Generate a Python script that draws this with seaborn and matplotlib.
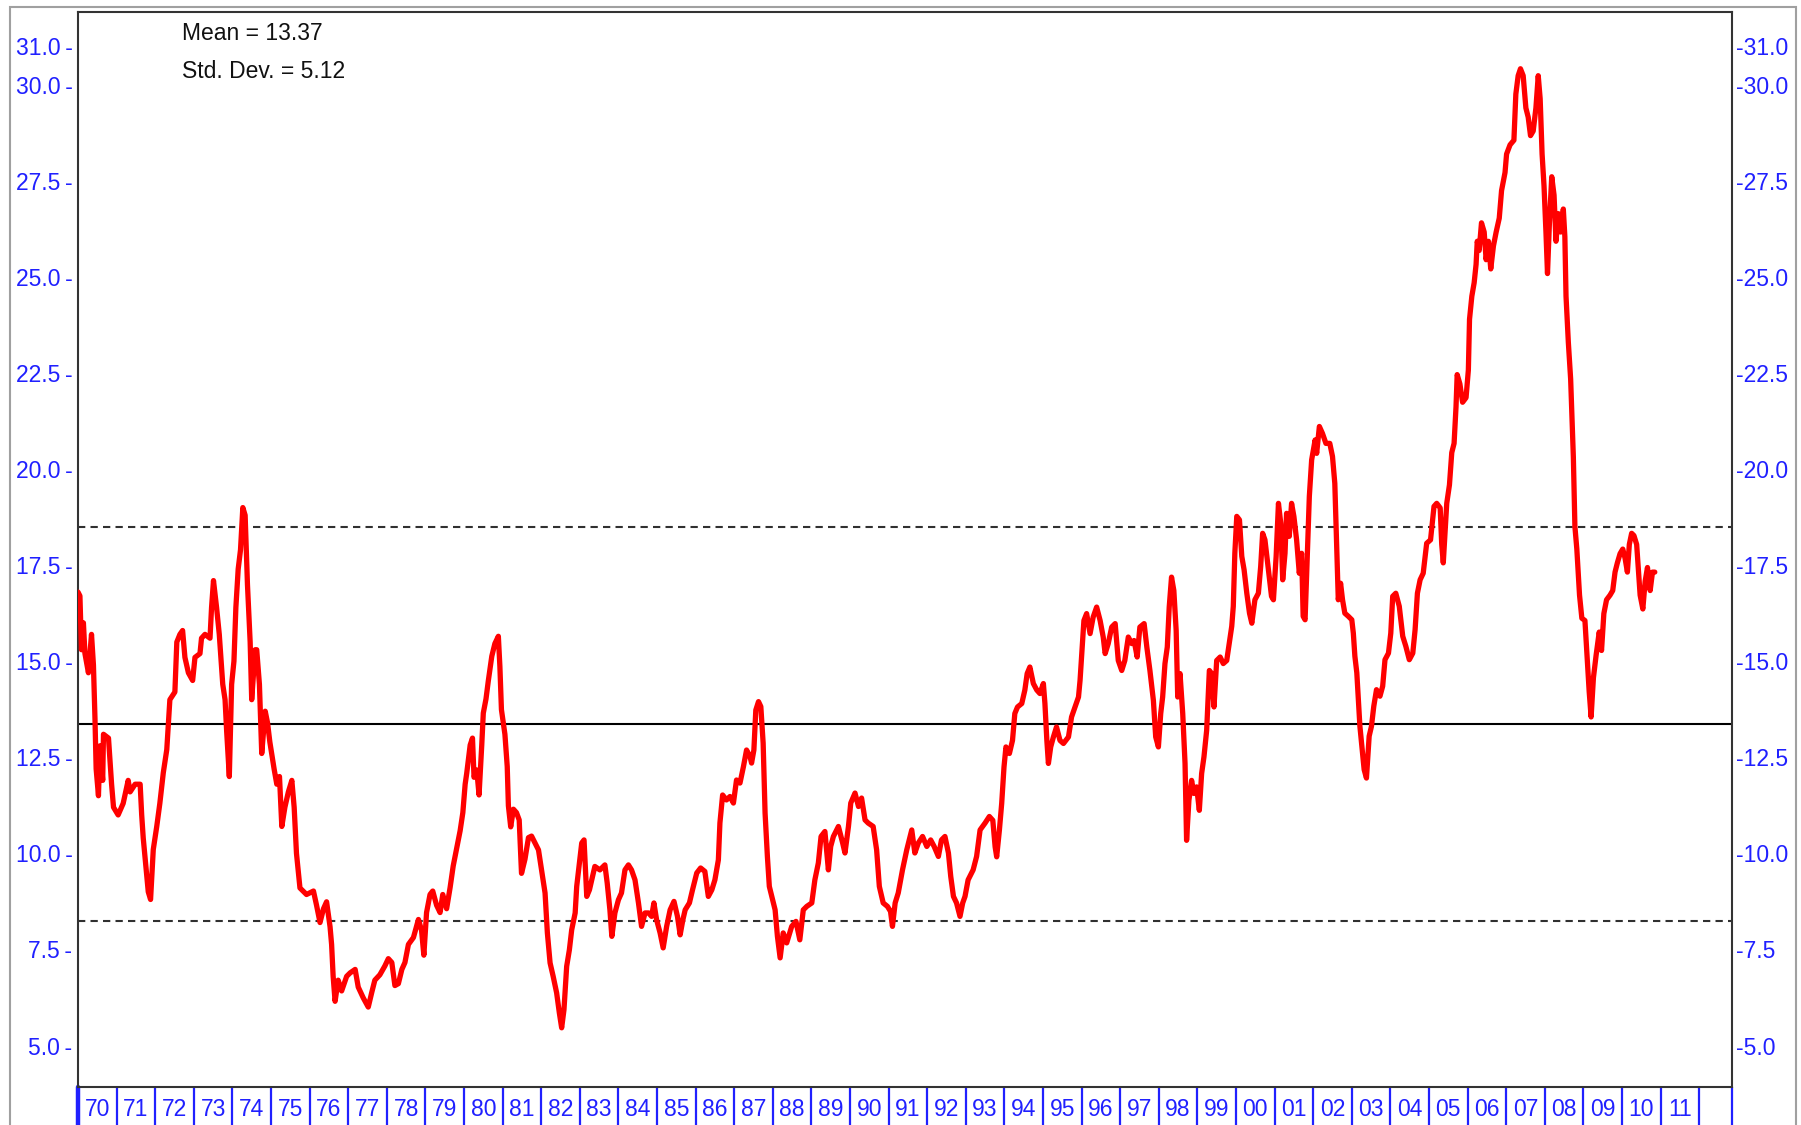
import pandas as pd
import matplotlib
matplotlib.use("Agg")
import matplotlib.pyplot as plt
import seaborn as sns
from matplotlib.patches import Rectangle

# P/E ratio (decimal years)
dates = [
    1970.00, 1970.05, 1970.09, 1970.14, 1970.18, 1970.27, 1970.35, 1970.40, 1970.44, 1970.47,
    1970.53, 1970.57, 1970.64, 1970.66, 1970.79, 1970.87, 1970.92, 1971.04, 1971.17, 1971.30,
    1971.35, 1971.48, 1971.61, 1971.65, 1971.69, 1971.76, 1971.82, 1971.88, 1971.95, 1972.04,
    1972.12, 1972.21, 1972.30, 1972.38, 1972.51, 1972.56, 1972.64, 1972.71, 1972.77, 1972.86,
    1972.97, 1973.03, 1973.16, 1973.20, 1973.29, 1973.42, 1973.46, 1973.51, 1973.59, 1973.66,
    1973.75, 1973.81, 1973.85, 1973.92, 1973.98, 1974.04, 1974.09, 1974.15, 1974.21, 1974.27,
    1974.33, 1974.39, 1974.46, 1974.50, 1974.59, 1974.63, 1974.70, 1974.76, 1974.85, 1974.91,
    1974.97, 1975.08, 1975.15, 1975.22, 1975.28, 1975.36, 1975.45, 1975.54, 1975.60, 1975.66,
    1975.75,
    1975.92, 1976.10, 1976.18, 1976.27, 1976.36, 1976.44, 1976.53, 1976.57, 1976.61, 1976.66,
    1976.74, 1976.83, 1976.96, 1977.05, 1977.18, 1977.26, 1977.39, 1977.52, 1977.61, 1977.69,
    1977.82, 1977.95, 1978.04, 1978.13, 1978.21, 1978.30, 1978.39, 1978.47, 1978.56, 1978.69,
    1978.82, 1978.90, 1978.96, 1979.03, 1979.12, 1979.19, 1979.29, 1979.38, 1979.45, 1979.55,
    1979.64, 1979.72, 1979.81, 1979.90, 1979.97, 1980.03, 1980.07, 1980.16, 1980.22, 1980.26,
    1980.33, 1980.39, 1980.46, 1980.50, 1980.57, 1980.63, 1980.72, 1980.80, 1980.89, 1980.93,
    1980.97, 1981.06, 1981.12, 1981.15, 1981.21, 1981.28, 1981.36, 1981.43, 1981.49, 1981.58,
    1981.67, 1981.75,
    1981.93, 1982.01, 1982.10, 1982.16, 1982.23, 1982.31, 1982.40, 1982.47, 1982.53, 1982.59,
    1982.66, 1982.73, 1982.79, 1982.88, 1982.92, 1982.99, 1983.05, 1983.11, 1983.18, 1983.25,
    1983.31, 1983.39, 1983.52, 1983.65, 1983.71, 1983.78, 1983.83, 1983.91, 1984.00, 1984.08,
    1984.17, 1984.26, 1984.34, 1984.43, 1984.52, 1984.60, 1984.69, 1984.78, 1984.86, 1984.92,
    1984.99, 1985.08, 1985.16, 1985.25, 1985.34, 1985.44, 1985.53, 1985.60, 1985.67, 1985.73,
    1985.84, 1985.92, 1986.03, 1986.13, 1986.24, 1986.33, 1986.42, 1986.50, 1986.59, 1986.63,
    1986.70, 1986.80, 1986.89, 1986.98, 1987.06, 1987.15, 1987.24, 1987.32, 1987.41, 1987.45,
    1987.51, 1987.56, 1987.63, 1987.69, 1987.75, 1987.80, 1987.86, 1987.91,
    1988.06, 1988.12, 1988.19, 1988.27, 1988.36, 1988.49, 1988.60, 1988.70, 1988.79, 1988.88,
    1989.01, 1989.09, 1989.18, 1989.25, 1989.35, 1989.44, 1989.50, 1989.57, 1989.70, 1989.81,
    1989.87, 1989.96, 1990.02, 1990.13, 1990.22, 1990.30, 1990.39, 1990.47, 1990.60, 1990.69,
    1990.76, 1990.86, 1990.97, 1991.05, 1991.10, 1991.17, 1991.25, 1991.36, 1991.47, 1991.60,
    1991.68, 1991.77, 1991.88, 1991.99, 1992.09, 1992.18, 1992.29, 1992.37, 1992.46, 1992.55,
    1992.61, 1992.68, 1992.76, 1992.85, 1992.92, 1992.98, 1993.06, 1993.19, 1993.28, 1993.37,
    1993.50, 1993.61,
    1993.70, 1993.76, 1993.80, 1993.87, 1993.93, 1993.99, 1994.04, 1994.13, 1994.21, 1994.27,
    1994.34, 1994.45, 1994.53, 1994.59, 1994.66, 1994.75, 1994.84, 1994.92, 1995.01, 1995.05,
    1995.10, 1995.14, 1995.20, 1995.27, 1995.35, 1995.44, 1995.53, 1995.66, 1995.74, 1995.83,
    1995.92, 1995.96, 1996.00, 1996.06, 1996.13, 1996.22, 1996.30, 1996.39, 1996.48, 1996.56,
    1996.61, 1996.69, 1996.78, 1996.87, 1996.95, 1997.04, 1997.12, 1997.21, 1997.30, 1997.36,
    1997.44, 1997.51, 1997.62, 1997.69, 1997.77, 1997.86, 1997.92, 1997.99, 1998.05, 1998.10,
    1998.16, 1998.22, 1998.27, 1998.33, 1998.39, 1998.45, 1998.49, 1998.55, 1998.62, 1998.68,
    1998.72, 1998.78, 1998.85, 1998.91, 1998.98, 1999.05, 1999.11, 1999.17, 1999.24, 1999.31,
    1999.37, 1999.43, 1999.50, 1999.59, 1999.67, 1999.76,
    1999.89, 1999.93, 1999.97, 2000.02, 2000.09, 2000.15, 2000.21, 2000.28, 2000.35, 2000.41,
    2000.49, 2000.58, 2000.64, 2000.69, 2000.75, 2000.84, 2000.92, 2000.97, 2001.04, 2001.10,
    2001.16, 2001.21, 2001.27, 2001.31, 2001.38, 2001.44, 2001.50, 2001.57, 2001.64, 2001.70,
    2001.74, 2001.79, 2001.85, 2001.90, 2001.96, 2002.05, 2002.09, 2002.16, 2002.24, 2002.33,
    2002.43, 2002.50, 2002.56, 2002.61, 2002.65, 2002.71, 2002.76, 2002.82, 2002.91, 2003.00,
    2003.04, 2003.08, 2003.13, 2003.17, 2003.21, 2003.26, 2003.32, 2003.38, 2003.45, 2003.51,
    2003.57, 2003.64, 2003.73, 2003.80, 2003.86, 2003.95, 2004.01, 2004.06, 2004.14, 2004.23,
    2004.32, 2004.40, 2004.49, 2004.58, 2004.64, 2004.70, 2004.77, 2004.85, 2004.94, 2005.04,
    2005.13, 2005.20,
    2005.29, 2005.33, 2005.37, 2005.41, 2005.46, 2005.53, 2005.59, 2005.65, 2005.70, 2005.73,
    2005.80, 2005.87, 2005.96, 2006.02, 2006.05, 2006.11, 2006.17, 2006.22, 2006.25, 2006.30,
    2006.36, 2006.43, 2006.48, 2006.54, 2006.60, 2006.67, 2006.74, 2006.82, 2006.88, 2006.97,
    2007.01, 2007.10, 2007.20, 2007.25, 2007.31, 2007.37, 2007.44, 2007.51, 2007.57, 2007.63,
    2007.70, 2007.77, 2007.83, 2007.88, 2007.93, 2007.98, 2008.03, 2008.07, 2008.12, 2008.18,
    2008.24, 2008.29, 2008.35, 2008.41, 2008.48, 2008.52, 2008.55, 2008.61, 2008.67, 2008.74,
    2008.78, 2008.83, 2008.90, 2008.96, 2009.04, 2009.08, 2009.15, 2009.20, 2009.26, 2009.33,
    2009.41, 2009.47, 2009.53, 2009.60, 2009.69, 2009.76, 2009.82, 2009.88, 2009.95, 2010.02,
    2010.08, 2010.14, 2010.19, 2010.25, 2010.31, 2010.38, 2010.42, 2010.47, 2010.54, 2010.60,
    2010.66, 2010.73, 2010.79, 2010.85,
]
pe = [
    16.8, 16.7, 15.3, 16.0, 15.2, 14.7, 15.7, 14.9, 13.5, 12.2,
    11.5, 12.8, 11.9, 13.1, 13.0, 11.8, 11.2, 11.0, 11.3, 11.9,
    11.6, 11.8, 11.8, 11.0, 10.4, 9.65, 9.0, 8.8, 10.1, 10.7,
    11.3, 12.1, 12.7, 14.0, 14.2, 15.5, 15.7, 15.8, 15.1, 14.7,
    14.5, 15.1, 15.2, 15.6, 15.7, 15.6, 16.4, 17.1, 16.4, 15.7,
    14.4, 14.0, 13.2, 12.0, 14.4, 15.0, 16.4, 17.4, 17.9, 19.0,
    18.8, 17.0, 15.5, 14.0, 15.3, 15.3, 14.4, 12.6, 13.7, 13.4,
    12.9, 12.2, 11.8, 12.0, 10.7, 11.2, 11.6, 11.9, 11.2, 10.0,
    9.1,
    8.93, 9.02, 8.65, 8.2, 8.56, 8.74, 8.09, 7.63, 6.8, 6.15,
    6.7, 6.42, 6.8, 6.89, 6.98, 6.52, 6.24, 6.0, 6.38, 6.7,
    6.84, 7.07, 7.26, 7.16, 6.56, 6.61, 6.98, 7.16, 7.63, 7.81,
    8.28, 8.0, 7.35, 8.46, 8.93, 9.02, 8.65, 8.46, 8.93, 8.56,
    9.11, 9.67, 10.13, 10.59, 11.06, 11.8, 12.08, 12.82, 13.0, 11.98,
    12.17, 11.52, 12.82, 13.65, 14.02, 14.49, 15.13, 15.46, 15.65, 14.86,
    13.74, 13.1, 12.26, 11.24, 10.69, 11.15, 11.06, 10.87, 9.48, 9.85,
    10.41, 10.45,
    10.09, 9.57, 8.97, 7.93, 7.15, 6.8, 6.37, 5.85, 5.46, 5.93,
    7.06, 7.49, 8.01, 8.45, 9.14, 9.75, 10.27, 10.35, 8.88, 9.05,
    9.31, 9.66, 9.57, 9.7, 9.23, 8.53, 7.84, 8.45, 8.79, 8.97,
    9.57, 9.7, 9.57, 9.31, 8.71, 8.1, 8.45, 8.45, 8.36, 8.71,
    8.27, 7.93, 7.54, 8.1, 8.53, 8.75, 8.36, 7.88, 8.27, 8.53,
    8.71, 9.05, 9.49, 9.62, 9.53, 8.88, 9.05, 9.31, 9.83, 10.79,
    11.52, 11.39, 11.48, 11.31, 11.91, 11.83, 12.26, 12.69, 12.52, 12.35,
    12.69, 13.73, 13.95, 13.82, 12.87, 11.05, 9.92, 9.14,
    8.53, 7.84, 7.28, 7.93, 7.67, 8.1, 8.23, 7.75, 8.53, 8.62,
    8.71, 9.31, 9.75, 10.44, 10.57, 9.57, 10.18, 10.44, 10.7, 10.27,
    10.01, 10.7, 11.31, 11.57, 11.22, 11.44, 10.87, 10.79, 10.7, 10.09,
    9.14, 8.71, 8.62, 8.49, 8.1, 8.71, 8.97, 9.57, 10.09, 10.61,
    10.01, 10.27, 10.44, 10.18, 10.35, 10.18, 9.92, 10.35, 10.44, 10.01,
    9.4, 8.88, 8.71, 8.36, 8.71, 8.88, 9.31, 9.57, 9.92, 10.61,
    10.79, 10.96,
    10.86, 10.17, 9.91, 10.6, 11.3, 12.25, 12.77, 12.6, 12.94, 13.64,
    13.81, 13.9, 14.25, 14.68, 14.85, 14.42, 14.25, 14.16, 14.42, 13.9,
    12.94, 12.34, 12.77, 13.03, 13.29, 12.94, 12.86, 13.03, 13.55, 13.81,
    14.07, 14.5, 15.11, 16.06, 16.24, 15.72, 16.15, 16.41, 16.06, 15.63,
    15.2, 15.46, 15.89, 15.98, 15.02, 14.76, 15.02, 15.63, 15.46, 15.54,
    15.11, 15.89, 15.98, 15.37, 14.76, 13.98, 13.03, 12.77, 13.64, 14.07,
    14.94, 15.37, 16.41, 17.19, 16.84, 15.8, 14.07, 14.68, 13.64, 12.34,
    10.34, 11.38, 11.9, 11.56, 11.73, 11.12, 12.08, 12.51, 13.2, 14.76,
    14.68, 13.81, 15.02, 15.11, 14.94, 15.02,
    15.91, 16.43, 17.81, 18.77, 18.68, 17.73, 17.38, 16.77, 16.25, 15.99,
    16.6, 16.77, 17.47, 18.33, 18.16, 17.38, 16.69, 16.6, 17.73, 19.11,
    18.59, 17.12, 17.81, 18.85, 18.25, 19.11, 18.77, 18.16, 17.29, 17.81,
    16.17, 16.08, 17.81, 19.29, 20.24, 20.76, 20.41, 21.11, 20.93, 20.67,
    20.67, 20.33, 19.63, 17.9, 16.6, 17.03, 16.6, 16.25, 16.17, 16.08,
    15.73, 15.13, 14.7, 14.0, 13.31, 12.79, 12.18, 11.96, 13.05, 13.31,
    13.83, 14.26, 14.09, 14.35, 15.04, 15.21, 15.73, 16.69, 16.77, 16.43,
    15.65, 15.39, 15.04, 15.21, 15.82, 16.77, 17.12, 17.29, 18.07, 18.16,
    19.03, 19.11,
    18.99, 18.04, 17.56, 18.27, 19.11, 19.59, 20.43, 20.67, 21.62, 22.46,
    22.22, 21.74, 21.86, 22.58, 23.9, 24.5, 24.85, 25.33, 25.93, 25.69,
    26.41, 26.17, 25.45, 25.93, 25.21, 25.81, 26.17, 26.53, 27.25, 27.72,
    28.2, 28.44, 28.56, 29.76, 30.24, 30.42, 30.24, 29.4, 29.16, 28.68,
    28.8, 29.4, 30.24, 29.64, 28.2, 27.37, 26.17, 25.09, 26.41, 27.61,
    27.13, 25.93, 26.65, 26.17, 26.77, 26.05, 24.5, 23.3, 22.34, 20.31,
    18.51, 17.92, 16.72, 16.12, 16.06, 15.4, 14.21, 13.55, 14.57, 15.16,
    15.76, 15.28, 16.24, 16.6, 16.72, 16.84, 17.32, 17.56, 17.8, 17.92,
    17.68, 17.32, 18.04, 18.33, 18.27, 18.04, 17.44, 16.72, 16.36, 17.08,
    17.44, 16.84, 17.32, 17.32,
]

mean_pe = 13.37
std_pe = 5.12
ytick_vals = [5.0, 7.5, 10.0, 12.5, 15.0, 17.5, 20.0, 22.5, 25.0, 27.5, 30.0, 31.0]
year_labels = ["70", "71", "72", "73", "74", "75", "76", "77", "78", "79",
               "80", "81", "82", "83", "84", "85", "86", "87", "88", "89",
               "90", "91", "92", "93", "94", "95", "96", "97", "98", "99",
               "00", "01", "02", "03", "04", "05", "06", "07", "08", "09",
               "10", "11"]

W, H = 1801, 1125
BLUE = "#2020ff"
FS = 16.5

sns.set_style("white")
plt.rcParams["font.family"] = ["Liberation Sans", "DejaVu Sans"]

fig = plt.figure(figsize=(W / 100, H / 100), dpi=100)
ax = fig.add_axes([78 / W, 1 - 1087 / H, (1732 - 78) / W, (1087 - 11.5) / H])

df = pd.DataFrame({"date": dates, "pe": pe})
sns.lineplot(data=df, x="date", y="pe", ax=ax, color="#ff0000", lw=3.8,
             estimator=None, sort=False, zorder=3)

# mean and +/- one std dev
ax.axhline(mean_pe, color="black", lw=1.5, zorder=2)
for v in (mean_pe + std_pe, mean_pe - std_pe):
    ax.axhline(v, color="#303030", lw=1.5, dashes=(3.5, 2.5), zorder=2)

ax.set_xlim(1970, 2012.85)
ax.set_ylim(3.92, 31.91)
ax.set_xlabel("")
ax.set_ylabel("")

for sp in ax.spines.values():
    sp.set_color("#333333")
    sp.set_linewidth(1.5)

ax.set_yticks(ytick_vals)
ax.set_yticklabels([f"{v:.1f}\u2009-" for v in ytick_vals])
ax.tick_params(axis="y", length=0, pad=4, labelcolor=BLUE, labelsize=FS)

ax2 = ax.twinx()
ax2.set_ylim(ax.get_ylim())
ax2.set_yticks(ytick_vals)
ax2.set_yticklabels([f"-{v:.1f}" for v in ytick_vals])
ax2.tick_params(axis="y", length=0, pad=3, labelcolor=BLUE, labelsize=FS)
for sp in ax2.spines.values():
    sp.set_visible(False)

# year boxes below the plot
ax.set_xticks(list(range(1970, 2013)) + [2012.85])
ax.set_xticklabels([])
ax.set_xticks([y + 0.5 for y in range(1970, 2012)], minor=True)
ax.set_xticklabels(year_labels, minor=True)
ax.tick_params(axis="x", which="major", direction="out", length=30, width=1.6,
               color=BLUE, bottom=True)
ax.tick_params(axis="x", which="minor", length=0, pad=8, labelcolor=BLUE,
               labelsize=FS, bottom=True)
ax.plot([1970, 1970], [0, -0.04], transform=ax.get_xaxis_transform(),
        clip_on=False, color=BLUE, lw=3.2)

fig.text(182 / W, 1 - 34 / H, f"Mean = {mean_pe:.2f}", ha="left", va="center",
         fontsize=FS, color="#111111")
fig.text(182 / W, 1 - 71 / H, f"Std. Dev. = {std_pe:.2f}", ha="left", va="center",
         fontsize=FS, color="#111111")

fig.add_artist(Rectangle((9.5 / W, -0.05), (1796 - 9.5) / W, 1.05 - 7 / H,
                         transform=fig.transFigure, fill=False,
                         edgecolor="#a0a0a0", lw=1.5))

fig.savefig("out.png", dpi=100)
